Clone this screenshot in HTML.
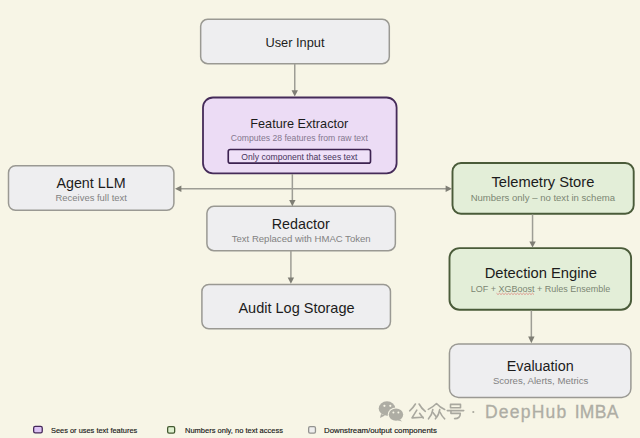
<!DOCTYPE html>
<html><head><meta charset="utf-8">
<style>
*{margin:0;padding:0;box-sizing:border-box}
html,body{width:640px;height:438px;overflow:hidden;background:#f7f5e6}
body{position:relative;font-family:"Liberation Sans",sans-serif;color:#1e1e1e}
.t{position:absolute;white-space:nowrap;line-height:1;text-align:center}
.ti{font-size:13.3px;color:#1c1c1c}
.sub{font-size:9.3px;color:#828282}
.lg{position:absolute;font-size:8px;color:#151515;white-space:nowrap;line-height:1;-webkit-text-stroke:0.15px #151515}
svg{position:absolute;left:0;top:0}
</style></head><body>

<svg width="640" height="438" viewBox="0 0 640 438">
  <rect x="200.66" y="19.35" width="188.64" height="44.35" rx="7" fill="#eeeef0" stroke="#9a9993" stroke-width="1.5"/>
  <rect x="203.0" y="97.5" width="193.60" height="75.80" rx="10" fill="#ecdcf5" stroke="#452b59" stroke-width="1.8"/>
  <rect x="228.25" y="149.45" width="142.25" height="13.70" rx="2" fill="#efe0f8" stroke="#3c2250" stroke-width="1.65"/>
  <rect x="8.5" y="165.75" width="165.40" height="44.60" rx="7" fill="#eeeef0" stroke="#9a9993" stroke-width="1.5"/>
  <rect x="206.9" y="206.35" width="188.45" height="44.35" rx="7" fill="#eeeef0" stroke="#9a9993" stroke-width="1.5"/>
  <rect x="201.9" y="284.45" width="188.55" height="44.35" rx="7" fill="#eeeef0" stroke="#9a9993" stroke-width="1.5"/>
  <rect x="452.5" y="163.0" width="181.20" height="50.70" rx="8.5" fill="#e3eed8" stroke="#4a5b39" stroke-width="1.9"/>
  <rect x="449.5" y="248.1" width="181.60" height="61.60" rx="10" fill="#e3eed8" stroke="#4a5b39" stroke-width="1.9"/>
  <rect x="449.45" y="343.9" width="181.45" height="53.55" rx="9" fill="#eeeef0" stroke="#9a9993" stroke-width="1.5"/>
</svg>

<svg width="640" height="438" viewBox="0 0 640 438">
  <g stroke="#9e9d95" stroke-width="1.5" fill="none">
    <line x1="294.75" y1="64" x2="294.75" y2="91"/>
    <line x1="292.35" y1="174" x2="292.35" y2="201"/>
    <line x1="290.9" y1="251" x2="290.9" y2="278"/>
    <line x1="532.55" y1="214.5" x2="532.55" y2="243"/>
    <line x1="531.35" y1="310.5" x2="531.35" y2="338"/>
    <line x1="180" y1="188.7" x2="447" y2="188.7"/>
  </g>
  <g fill="#7f7e75">
    <path d="M291.55 90.2 L297.95 90.2 L294.75 96.6 Z"/>
    <path d="M289.15 199.9 L295.55 199.9 L292.35 206.2 Z"/>
    <path d="M287.7 277.4 L294.1 277.4 L290.9 283.8 Z"/>
    <path d="M529.35 241.5 L535.75 241.5 L532.55 247.6 Z"/>
    <path d="M528.15 336.6 L534.55 336.6 L531.35 343.2 Z"/>
    <path d="M181.4 185.5 L181.4 191.9 L175 188.7 Z"/>
    <path d="M445.6 185.5 L445.6 191.9 L452 188.7 Z"/>
  </g>
</svg>

<!--TEXT-->
<div class="t ti" style="left:145.0px;width:300px;top:37.06px;font-size:12.8px">User Input</div>
<div class="t ti" style="left:149.3px;width:300px;top:117.85px;font-size:12.7px">Feature Extractor</div>
<div class="t sub" style="left:149.3px;width:300px;top:133.98px;font-size:8.65px;color:#84788f">Computes 28 features from raw text</div>
<div class="t" style="left:149.4px;width:300px;top:152.8px;font-size:8.6px;color:#47355c">Only component that sees text</div>
<div class="t ti" style="left:-59.0px;width:300px;top:176.00px;font-size:14.3px">Agent LLM</div>
<div class="t sub" style="left:-58.8px;width:300px;top:193.30px;font-size:9.45px">Receives full text</div>
<div class="t ti" style="left:150.8px;width:300px;top:216.50px;font-size:14.3px">Redactor</div>
<div class="t sub" style="left:151.2px;width:300px;top:234.22px;font-size:9.55px">Text Replaced with HMAC Token</div>
<div class="t ti" style="left:146.5px;width:300px;top:300.53px;font-size:14.5px">Audit Log Storage</div>
<div class="t ti" style="left:392.9px;width:300px;top:175.36px;font-size:14.7px">Telemetry Store</div>
<div class="t sub" style="left:392.8px;width:300px;top:193.42px;font-size:9.55px;color:#7b8673">Numbers only – no text in schema</div>
<div class="t ti" style="left:390.8px;width:300px;top:265.71px;font-size:14.75px">Detection Engine</div>
<div class="t sub" style="left:390.6px;width:300px;top:284.8px;font-size:9.0px;color:#7b8673">LOF + XGBoost + Rules Ensemble</div>
<div class="t ti" style="left:390.2px;width:300px;top:358.55px;font-size:14.35px">Evaluation</div>
<div class="t sub" style="left:390.6px;width:300px;top:375.97px;font-size:9.6px">Scores, Alerts, Metrics</div>
<!--/TEXT-->

<svg width="640" height="438"><polyline points="496.5,293.2 498.0,294.6 499.5,293.2 501.0,294.6 502.5,293.2 504.0,294.6 505.5,293.2 507.0,294.6 508.5,293.2 510.0,294.6 511.5,293.2 513.0,294.6 514.5,293.2 516.0,294.6 517.5,293.2 519.0,294.6 520.5,293.2 522.0,294.6 523.5,293.2 525.0,294.6 526.5,293.2 528.0,294.6 529.5,293.2 531.0,294.6 532.5,293.2 534.0,294.6" fill="none" stroke="#dc8a82" stroke-width="0.85"/></svg>
<!-- legend -->
<svg width="640" height="438" viewBox="0 0 640 438">
  <rect x="33.65" y="426.35" width="8.6" height="6.5" rx="1.6" fill="#dcc2f4" stroke="#45285a" stroke-width="1.3"/>
  <rect x="167.65" y="426.65" width="7.0" height="6.4" rx="1.4" fill="#def0cf" stroke="#435a30" stroke-width="1.3"/>
  <rect x="308.65" y="426.55" width="6.8" height="6.5" rx="1.4" fill="#eeeeee" stroke="#939390" stroke-width="1.3"/>
</svg>

<div class="lg" style="left:51px;top:426.7px;font-size:8.1px;transform:scaleX(0.917);transform-origin:0 0">Sees or uses text features</div>
<div class="lg" style="left:184.8px;top:426.7px;font-size:8.1px;transform:scaleX(0.928);transform-origin:0 0">Numbers only, no text access</div>
<div class="lg" style="left:324px;top:426.7px;font-size:8.1px;transform:scaleX(0.969);transform-origin:0 0">Downstream/output components</div>

<!-- watermark -->
<svg width="640" height="438" viewBox="0 0 640 438">
  <g fill="#aeada4">
    <ellipse cx="387" cy="408.5" rx="8.3" ry="7.2"/>
    <path d="M381 414 L380 418 L385 415.5 Z"/>
  </g>
  <ellipse cx="396" cy="414.6" rx="8.2" ry="7.1" fill="#f7f5e6"/>
  <g fill="#aeada4">
    <ellipse cx="396" cy="414.6" rx="7.2" ry="6.2"/>
    <path d="M400 419.5 L402 421.5 L397.5 420.2 Z"/>
  </g>
  <g fill="#f7f5e6">
    <circle cx="384.4" cy="405.8" r="1.1"/><circle cx="390.3" cy="405.8" r="1.1"/>
    <circle cx="393.4" cy="412.4" r="1"/><circle cx="398.4" cy="412.4" r="1"/>
  </g>
  <g stroke="#a9a89f" stroke-width="1.6" fill="none" stroke-linecap="round" stroke-linejoin="round">
    <path d="M415.4 404 Q413 408 409.7 410.8"/>
    <path d="M419.1 404 Q421.5 408.5 425.3 411.3"/>
    <path d="M416.8 410.1 L412 417.9 L423 417.2"/>
    <path d="M419.6 413.3 L423.2 418.1"/>
    <path d="M428.3 409.4 Q433 407 436.5 403.5 Q440 407.5 444.7 409.4"/>
    <path d="M432.8 409.6 Q432 415 428.5 418.8"/>
    <path d="M432.9 412.6 L435.8 416.3"/>
    <path d="M439.7 409.6 Q439 415 435.4 418.8"/>
    <path d="M439.9 412 Q442 416.5 444.7 418.8"/>
    <path d="M450.5 404.4 H460.5 V407.7 H450.5 Z"/>
    <path d="M447.3 410.6 H463.7"/>
    <path d="M451 410.6 L450.9 413.4 H460.3 Q460.3 418.6 454.6 418.6"/>
  </g>
  <circle cx="473.3" cy="412" r="1.1" fill="#aaa99f"/>
</svg>
<div class="t" style="left:484.9px;top:403.9px;font-size:17.5px;letter-spacing:1.25px;text-align:left;color:#aeada4;-webkit-text-stroke:0.3px #aeada4">DeepHub</div>
<div class="t" style="left:574.7px;top:403.9px;font-size:17.5px;letter-spacing:0.3px;text-align:left;color:#aeada4;-webkit-text-stroke:0.3px #aeada4">IMBA</div>

</body></html>
